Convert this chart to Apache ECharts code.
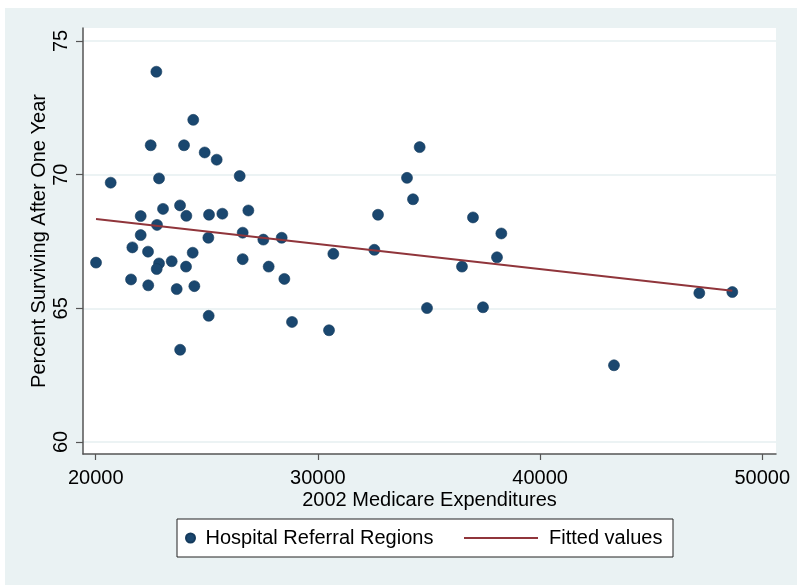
<!DOCTYPE html>
<html>
<head>
<meta charset="utf-8">
<script src="https://cdn.jsdelivr.net/npm/echarts@6/dist/echarts.min.js"></script>
<style>
  html, body { margin: 0; padding: 0; background: #ffffff; }
  #bg { position: absolute; left: 5px; top: 8px; width: 792px; height: 577px; background: #EAF2F3; }
  #chart { position: absolute; left: 0; top: 0; width: 800px; height: 588px; }
</style>
</head>
<body>
<div id="bg"></div>
<div id="chart"></div>
<script>
// ---- data ----
const expenditures = [
  22730, 24390, 22475, 23975, 24905, 25445, 20675, 22850, 26480, 23030,
  23795, 24080, 25100, 25700, 26870, 22025, 22760, 22025, 26615, 27545,
  25070, 21650, 22355, 24365, 20015, 22850, 22745, 23420, 24065, 26615,
  27785, 21590, 22365, 23645, 24440, 25085, 23800, 28370, 30695, 32540,
  32705, 28490, 28835, 30500, 34580, 34010, 34280, 36980, 38255, 36485,
  38060, 34910, 37430, 43325, 47165, 48650
];
const surviving = [
  73.85, 72.05, 71.10, 71.10, 70.83, 70.56, 69.70, 69.86, 69.95, 68.72,
  68.85, 68.46, 68.50, 68.54, 68.66, 68.45, 68.12, 67.74, 67.83, 67.57,
  67.64, 67.28, 67.12, 67.08, 66.71, 66.68, 66.47, 66.76, 66.56, 66.84,
  66.56, 66.08, 65.86, 65.72, 65.83, 64.72, 63.45, 67.64, 67.04, 67.19,
  68.50, 66.10, 64.49, 64.18, 71.03, 69.88, 69.08, 68.40, 67.80, 66.56,
  66.91, 65.01, 65.04, 62.87, 65.57, 65.61
];
const fittedX = [20015, 48650];
const fittedY = [68.34, 65.66];
const xTicks = [20000, 30000, 40000, 50000];
const yTicks = [60, 65, 70, 75];
const scatterName = 'Hospital Referral Regions';
const lineName = 'Fitted values';
const xTitle = '2002 Medicare Expenditures';
const yTitle = 'Percent Surviving After One Year';

// ---- chart ----
const FONT = 'Liberation Sans, Arial, sans-serif';
const axisColor = '#555555';
const chart = echarts.init(document.getElementById('chart'), null, { renderer: 'canvas' });

chart.setOption({
  animation: false,
  backgroundColor: 'transparent',
  textStyle: { fontFamily: FONT },
  grid: {
    left: 83, top: 28, right: 24, bottom: 134,
    show: true, backgroundColor: '#ffffff', borderWidth: 0
  },
  xAxis: {
    type: 'value',
    min: 19428.5, max: 50616.6,
    name: xTitle, nameLocation: 'middle', nameGap: 36,
    nameMoveOverlap: false,
    nameTextStyle: { fontSize: 20, color: '#000', fontFamily: FONT },
    axisLine: { show: true, onZero: false, lineStyle: { color: axisColor, width: 1.5 } },
    axisTick: { show: true, customValues: xTicks, length: 6, lineStyle: { color: axisColor, width: 1.2 } },
    axisLabel: { customValues: xTicks, formatter: v => String(v), fontSize: 20, color: '#000', margin: 14, fontFamily: FONT },
    splitLine: { show: false }
  },
  yAxis: {
    type: 'value',
    min: 59.551, max: 75.486,
    name: yTitle, nameLocation: 'middle', nameGap: 34, nameRotate: 90,
    nameMoveOverlap: false,
    nameTextStyle: { fontSize: 20, color: '#000', fontFamily: FONT },
    axisLine: { show: true, onZero: false, lineStyle: { color: axisColor, width: 1.5 } },
    axisTick: { show: true, customValues: yTicks, length: 7, lineStyle: { color: axisColor, width: 1.2 } },
    axisLabel: { customValues: yTicks, formatter: v => String(v), fontSize: 20, color: '#000', margin: 12, rotate: 90, fontFamily: FONT },
    splitLine: { show: true, lineStyle: { color: '#E6EFF1', width: 1.5 } }
  },
  legend: [
    {
      data: [{ name: scatterName, icon: 'circle' }],
      left: 185, top: 528,
      itemWidth: 20, itemHeight: 9,
      padding: 0,
      textStyle: { fontSize: 20, color: '#000', fontFamily: FONT },
      selectedMode: false
    },
    {
      data: [{ name: lineName, icon: 'rect' }],
      left: 464, top: 528,
      itemWidth: 74, itemHeight: 2,
      padding: 0,
      textStyle: { fontSize: 20, color: '#000', fontFamily: FONT, padding: [0, 0, 0, 6] },
      selectedMode: false
    }
  ],
  graphic: [
    {
      type: 'rect', z: 2,
      shape: { x: 177, y: 519, width: 496, height: 38 },
      style: { fill: '#ffffff', stroke: '#222222', lineWidth: 1 }
    }
  ],
  series: [
    {
      name: scatterName,
      type: 'scatter',
      symbol: 'circle',
      symbolSize: 11,
      itemStyle: { color: '#1A476F', borderColor: '#143a5c', borderWidth: 0.6, opacity: 1 },
      data: expenditures.map((x, i) => [x, surviving[i]]),
      z: 3
    },
    {
      name: lineName,
      type: 'line',
      symbol: 'none',
      lineStyle: { color: '#90353B', width: 2 },
      itemStyle: { color: '#90353B' },
      data: fittedX.map((x, i) => [x, fittedY[i]]),
      z: 4
    }
  ]
});
</script>
</body>
</html>
